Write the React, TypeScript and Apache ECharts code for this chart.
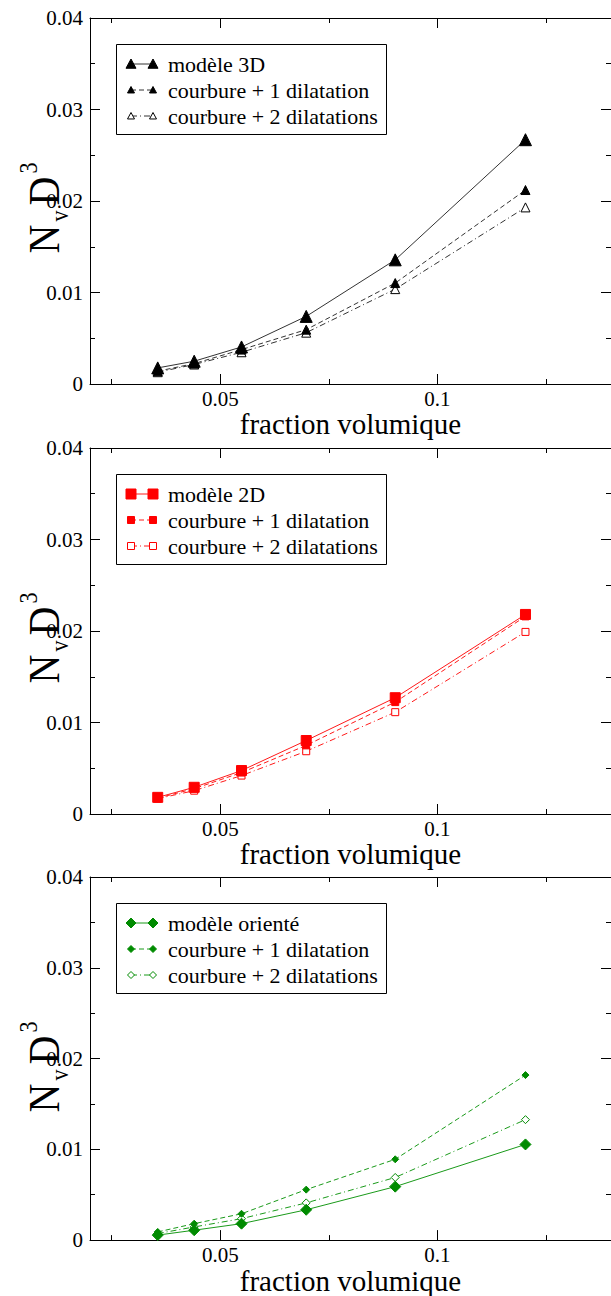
import React, { useEffect, useRef } from 'react';
import * as echarts from 'echarts';

// ---- data ----
const fractions = [0.0356, 0.044, 0.0549, 0.0698, 0.0903, 0.1203];

const modele3D = [0.00176, 0.00249, 0.00405, 0.00739, 0.01357, 0.0267];
const courbure1_3D = [0.0014, 0.00223, 0.00376, 0.00594, 0.01103, 0.0212];
const courbure2_3D = [0.00129, 0.00213, 0.00347, 0.00561, 0.01037, 0.0193];

const modele2D = [0.00182, 0.00292, 0.00475, 0.00803, 0.01271, 0.02181];
const courbure1_2D = [0.00173, 0.00277, 0.00453, 0.0075, 0.01223, 0.0216];
const courbure2_2D = [0.00168, 0.00255, 0.0042, 0.00686, 0.01113, 0.0199];

const modeleOriente = [0.00055, 0.00109, 0.00181, 0.00334, 0.00589, 0.01054];
const courbure1_or = [0.0009, 0.00181, 0.0029, 0.00556, 0.0089, 0.01818];
const courbure2_or = [0.00072, 0.00145, 0.00236, 0.0041, 0.0069, 0.01327];

const labels3D = ['modèle 3D', 'courbure + 1 dilatation', 'courbure + 2 dilatations'];
const labels2D = ['modèle 2D', 'courbure + 1 dilatation', 'courbure + 2 dilatations'];
const labelsOr = ['modèle orienté', 'courbure + 1 dilatation', 'courbure + 2 dilatations'];

const xMajorTicks = [0.05, 0.1];
const xMinorTicks = [0.025, 0.075, 0.125];
const xName = 'fraction volumique';

// ---- styles ----
const FONT = 'Liberation Serif, Times New Roman, serif';
const GRID_TOPS = [18, 448, 877];
const GRID_H = 366;
const GRID_LEFT = 90;
const GRID_W = 523.4;
const DASH = [5, 3];
const DASHDOT = [6, 3, 1, 3];

type Kind = 'triangle' | 'rect' | 'diamond';

const panels = [
  {
    color: '#000000',
    lineColor: '#333333',
    kind: 'triangle' as Kind,
    labels: labels3D,
    values: [modele3D, courbure1_3D, courbure2_3D],
    sizes: [12, 9, 9],
    legendTop: 44,
  },
  {
    color: '#ff0000',
    lineColor: '#ff1a1a',
    kind: 'rect' as Kind,
    labels: labels2D,
    values: [modele2D, courbure1_2D, courbure2_2D],
    sizes: [10, 7, 7],
    legendTop: 474,
  },
  {
    color: '#008b00',
    lineColor: '#1a9a1a',
    kind: 'diamond' as Kind,
    labels: labelsOr,
    values: [modeleOriente, courbure1_or, courbure2_or],
    sizes: [11, 7, 8],
    legendTop: 903,
  },
];

const lineTypes: any[] = ['solid', DASH, DASHDOT];
const filledFlags = [true, true, false];

function symbolEl(kind: Kind, cx: number, cy: number, s: number, color: string, filled: boolean) {
  const style = { fill: filled ? color : '#ffffff', stroke: color, lineWidth: 1 };
  const h = s / 2;
  if (kind === 'triangle') {
    return { type: 'polygon', shape: { points: [[cx, cy - h], [cx + h, cy + h * 0.85], [cx - h, cy + h * 0.85]] }, style };
  }
  if (kind === 'rect') {
    return { type: 'rect', shape: { x: cx - h, y: cy - h, width: s, height: s }, style };
  }
  return { type: 'polygon', shape: { points: [[cx, cy - h], [cx + h, cy], [cx, cy + h], [cx - h, cy]] }, style };
}

function buildLegend(p: any) {
  const top = p.legendTop;
  const children: any[] = [
    { type: 'rect', shape: { x: 116.5, y: top + 0.5, width: 270, height: 90 }, style: { fill: '#ffffff', stroke: '#000', lineWidth: 1 } },
  ];
  p.labels.forEach((lab: string, i: number) => {
    const cy = top + 20 + 26 * i;
    const s = i === 0 ? 10 : 7;
    children.push({
      type: 'line',
      shape: { x1: 131, y1: cy, x2: 153, y2: cy },
      style: { stroke: p.lineColor, lineWidth: 1, lineDash: i === 0 ? null : lineTypes[i] },
    });
    children.push(symbolEl(p.kind, 131, cy, s, p.color, filledFlags[i]));
    children.push(symbolEl(p.kind, 153, cy, s, p.color, filledFlags[i]));
    children.push({
      type: 'text',
      x: 168,
      y: cy,
      style: { text: lab, fill: '#000', fontSize: 22, fontFamily: FONT, align: 'left', verticalAlign: 'middle', textAlign: 'left', textVerticalAlign: 'middle' },
    });
  });
  return { type: 'group', x: 0, y: 0, z: 100, children };
}

function yNameEl(i: number) {
  const cy = GRID_TOPS[i] + GRID_H / 2 + 7;
  return {
    type: 'text',
    x: 44,
    y: cy,
    rotation: Math.PI / 2,
    scaleY: 1.12,
    z: 100,
    style: {
      text: '{n|N}{s|v}{n|D}{p|3}',
      fill: '#000',
      align: 'center',
      verticalAlign: 'middle',
      textAlign: 'center',
      textVerticalAlign: 'middle',
      rich: {
        n: { fontSize: 40, fontFamily: FONT, fill: '#000', lineHeight: 50 },
        s: { fontSize: 22, fontFamily: FONT, fill: '#000', lineHeight: 28, verticalAlign: 'bottom', padding: [0, 5, 0, 3] },
        p: { fontSize: 22, fontFamily: FONT, fill: '#000', lineHeight: 10, verticalAlign: 'top', padding: [0, 0, 0, 3] },
      },
    },
  };
}

export default function App() {
  const ref = useRef<HTMLDivElement>(null);
  useEffect(() => {
    if (!ref.current) return;
    const chart = echarts.init(ref.current, undefined, { renderer: 'svg' });
    const grid: any[] = [];
    const xAxis: any[] = [];
    const yAxis: any[] = [];
    const series: any[] = [];
    const axisLine = { show: true, onZero: false, lineStyle: { color: '#000', width: 1 } };
    const tickStyle = { color: '#000', width: 1 };
    const labelStyle = { fontSize: 21, fontFamily: FONT, fontWeight: 'normal', color: '#000' };

    panels.forEach((p, i) => {
      grid.push({ left: GRID_LEFT, top: GRID_TOPS[i], width: GRID_W, height: GRID_H, show: false });
      const base = { gridIndex: i, type: 'value', min: 0.02, max: 0.14, splitLine: { show: false } };
      xAxis.push({
        ...base,
        position: 'bottom',
        offset: 0,
        axisLine,
        axisTick: { show: true, inside: true, length: 10, customValues: xMajorTicks, lineStyle: tickStyle },
        axisLabel: { show: true, customValues: xMajorTicks, ...labelStyle, margin: 4 },
        name: xName,
        nameLocation: 'middle',
        nameGap: 23,
        nameTextStyle: { fontSize: 29, fontFamily: FONT, color: '#000' },
      });
      xAxis.push({
        ...base,
        position: 'bottom',
        offset: 0,
        axisLine: { show: false, onZero: false },
        axisTick: { show: true, inside: true, length: 5, customValues: xMinorTicks, lineStyle: tickStyle },
        axisLabel: { show: false },
      });
      xAxis.push({
        ...base,
        position: 'top',
        offset: 0,
        axisLine,
        axisTick: { show: true, inside: true, length: 10, customValues: xMajorTicks, lineStyle: tickStyle },
        axisLabel: { show: false },
      });
      xAxis.push({
        ...base,
        position: 'top',
        offset: 0,
        axisLine: { show: false, onZero: false },
        axisTick: { show: true, inside: true, length: 5, customValues: xMinorTicks, lineStyle: tickStyle },
        axisLabel: { show: false },
      });
      const ybase = {
        gridIndex: i,
        type: 'value',
        min: 0,
        max: 0.04,
        interval: 0.01,
        splitLine: { show: false },
        minorSplitLine: { show: false },
        axisLine,
        axisTick: { show: true, inside: true, length: 10, lineStyle: tickStyle },
        minorTick: { show: true, splitNumber: 2, length: 5, lineStyle: tickStyle },
      };
      yAxis.push({
        ...ybase,
        position: 'left',
        axisLabel: { show: true, ...labelStyle, margin: 7 },
      });
      yAxis.push({ ...ybase, position: 'right', axisLabel: { show: false } });

      [2, 1, 0].forEach((k) => {
        series.push({
          type: 'line',
          name: p.labels[k],
          xAxisIndex: 4 * i,
          yAxisIndex: 2 * i,
          data: fractions.map((x, j) => [x, p.values[k][j]]),
          symbol: p.kind,
          symbolSize: p.sizes[k],
          showAllSymbol: true,
          silent: true,
          lineStyle: { color: p.lineColor, width: 1, type: lineTypes[k] },
          itemStyle: { color: filledFlags[k] ? p.color : '#ffffff', borderColor: p.color, borderWidth: 1 },
          z: 3 + (2 - k),
        });
      });
    });

    const graphic: any[] = [];
    panels.forEach((p, i) => {
      graphic.push(buildLegend(p));
      graphic.push(yNameEl(i));
    });

    chart.setOption({
      animation: false,
      backgroundColor: '#ffffff',
      textStyle: { fontFamily: FONT, color: '#000' },
      grid,
      xAxis,
      yAxis,
      series,
      graphic,
    });
    return () => chart.dispose();
  }, []);
  return <div ref={ref} style={{ position: 'absolute', left: 0, top: 0, width: 611, height: 1296 }} />;
}
